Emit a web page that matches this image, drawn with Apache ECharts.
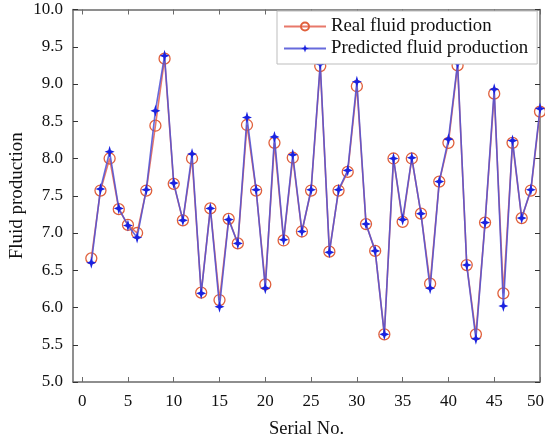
<!DOCTYPE html>
<html>
<head>
<meta charset="utf-8">
<script src="https://cdn.jsdelivr.net/npm/echarts@6/dist/echarts.min.js"></script>
<style>html,body{margin:0;padding:0;background:#fff}#c{width:545px;height:441px}</style>
</head>
<body>
<div id="c"></div>
<script>
var serial = [1,2,3,4,5,6,7,8,9,10,11,12,13,14,15,16,17,18,19,20,21,22,23,24,25,26,27,28,29,30,31,32,33,34,35,36,37,38,39,40,41,42,43,44,45,46,47,48,49,50];
var realValues = [6.66,7.57,8.00,7.32,7.11,7.00,7.57,8.44,9.34,7.66,7.17,8.00,6.20,7.33,6.10,7.19,6.86,8.45,7.57,6.31,8.21,6.90,8.01,7.02,7.57,9.24,6.75,7.57,7.82,8.97,7.12,6.76,5.64,8.00,7.15,8.00,7.26,6.32,7.69,8.21,9.25,6.57,5.64,7.14,8.87,6.19,8.21,7.20,7.57,8.63];
var predValues = [6.60,7.59,8.09,7.33,7.10,6.94,7.58,8.64,9.38,7.67,7.17,8.06,6.19,7.33,6.01,7.18,6.86,8.55,7.58,6.26,8.29,6.91,8.05,7.02,7.58,9.27,6.74,7.58,7.84,9.03,7.12,6.76,5.64,8.00,7.18,8.01,7.26,6.26,7.69,8.26,9.28,6.57,5.58,7.14,8.93,6.02,8.24,7.20,7.58,8.67];
var xTicks = [0,5,10,15,20,25,30,35,40,45,50];
var yTicks = [5.0,5.5,6.0,6.5,7.0,7.5,8.0,8.5,9.0,9.5,10.0];

function pairs(xs, ys){ return xs.map(function(x,i){ return [x, ys[i]]; }); }

var FONT = '"Liberation Serif","DejaVu Serif",serif';
var axisColor = '#6a6a6a';
var starPath = 'path://M0,-10 L2.6,-2.6 L10,0 L2.6,2.6 L0,10 L-2.6,2.6 L-10,0 L-2.6,-2.6 Z';
var lastX = xTicks[xTicks.length - 1];

var chart = echarts.init(document.getElementById('c'));
chart.setOption({
  animation: false,
  backgroundColor: '#fff',
  textStyle: { fontFamily: FONT },
  grid: { left: 73, right: 5, top: 9.5, bottom: 59, show: false, outerBoundsMode: 'none', containLabel: false },
  legend: {
    orient: 'vertical',
    left: 277,
    top: 11,
    padding: [5, 9, 5, 6],
    itemGap: 1,
    itemWidth: 42,
    itemHeight: 10,
    backgroundColor: '#fff',
    borderColor: '#bdbdbd',
    borderWidth: 1,
    textStyle: { fontFamily: FONT, fontSize: 18.8, color: '#111', lineHeight: 21 },
    data: ['Real fluid production', 'Predicted fluid production']
  },
  xAxis: [{
    type: 'value', min: -1, max: 50, position: 'bottom',
    name: 'Serial No.', nameLocation: 'middle', nameGap: 38,
    nameTextStyle: { fontFamily: FONT, fontSize: 18.5, color: '#111' },
    axisLine: { show: true, onZero: false, lineStyle: { color: axisColor, width: 1.5 } },
    axisTick: { show: true, inside: true, length: 5, customValues: xTicks, lineStyle: { color: axisColor } },
    axisLabel: {
      customValues: xTicks, margin: 11, fontFamily: FONT, fontSize: 17, color: '#111',
      formatter: function(v){ return v === lastX ? '{e|' + v + '}' : String(v); },
      rich: { e: { fontFamily: FONT, fontSize: 17, color: '#111', padding: [0, 9, 0, 0] } }
    },
    splitLine: { show: false }
  }, {
    type: 'value', min: -1, max: 50, position: 'top',
    axisLine: { show: true, onZero: false, lineStyle: { color: axisColor, width: 1.5 } },
    axisTick: { show: true, inside: true, length: 5, customValues: xTicks, lineStyle: { color: axisColor } },
    axisLabel: { show: false, customValues: xTicks },
    splitLine: { show: false }
  }],
  yAxis: [{
    type: 'value', min: 5, max: 10, interval: 0.5, position: 'left',
    name: 'Fluid production', nameLocation: 'middle', nameGap: 46, nameMoveOverlap: false,
    nameTextStyle: { fontFamily: FONT, fontSize: 19, color: '#111' },
    axisLine: { show: true, onZero: false, lineStyle: { color: axisColor, width: 1.5 } },
    axisTick: { show: true, inside: true, length: 5, lineStyle: { color: '#333' } },
    axisLabel: { margin: 10, fontFamily: FONT, fontSize: 17, color: '#111', formatter: function(v){ return v.toFixed(1); } },
    splitLine: { show: false }
  }, {
    type: 'value', min: 5, max: 10, interval: 0.5, position: 'right',
    axisLine: { show: true, onZero: false, lineStyle: { color: axisColor, width: 1.5 } },
    axisTick: { show: true, inside: true, length: 5, lineStyle: { color: '#333' } },
    axisLabel: { show: false },
    splitLine: { show: false }
  }],
  series: [{
    name: 'Real fluid production',
    type: 'line',
    xAxisIndex: 0, yAxisIndex: 0,
    data: pairs(serial, realValues),
    symbol: 'circle',
    symbolSize: 11,
    showAllSymbol: true,
    lineStyle: { color: '#e8786a', width: 1.6 },
    itemStyle: { color: 'rgba(255,255,255,0)', borderColor: '#e0603c', borderWidth: 1.3 },
    z: 2
  }, {
    name: 'Predicted fluid production',
    type: 'line',
    xAxisIndex: 0, yAxisIndex: 0,
    data: pairs(serial, predValues),
    symbol: starPath,
    symbolSize: [10, 12],
    showAllSymbol: true,
    lineStyle: { color: '#4c50d6', width: 1.6, opacity: 0.85 },
    itemStyle: { color: '#1a22e0', borderWidth: 0 },
    z: 3
  }]
});
</script>
</body>
</html>
